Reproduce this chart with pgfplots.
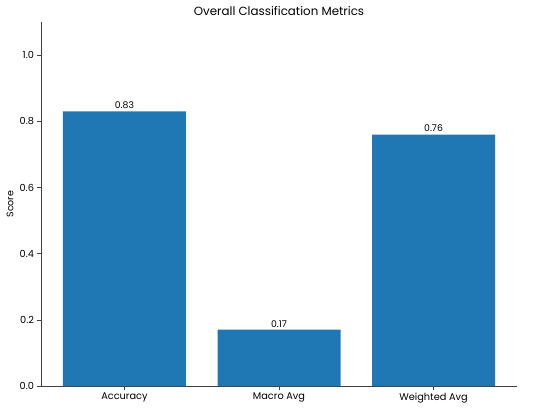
\documentclass[border=0pt]{standalone}
\usepackage{pgfplots}
\pgfplotsset{compat=1.18}
\usepackage{fontspec}
\setmainfont{Poppins}
\definecolor{barblue}{HTML}{1F77B4}
\definecolor{spine}{HTML}{404040}
\begin{document}
\begin{tikzpicture}
\useasboundingbox (-41bp,-25bp) rectangle (509bp,386bp);
\begin{axis}[
  at={(0,0)}, anchor=south west,
  scale only axis,
  width=476bp, height=364bp,
  xmin=-0.54, xmax=2.54,
  ymin=0, ymax=1.1,
  ytick={0,0.2,0.4,0.6,0.8,1.0},
  xtick={0,1,2},
  xticklabels={Accuracy,Macro Avg,Weighted Avg},
  /pgf/number format/assume math mode=true,
  yticklabel style={/pgf/number format/fixed,/pgf/number format/fixed zerofill,/pgf/number format/precision=1,font=\fontsize{9.8}{11}\selectfont},
  xticklabel style={font=\fontsize{9.8}{11}\selectfont},
  axis x line*=bottom, axis y line*=left,
  axis line style={spine,line width=0.6pt,-},
  tick style={spine,line width=0.6pt},
  tick align=outside,
  major tick length=3.5bp,
  ylabel={Score},
  ylabel style={font=\fontsize{9.5}{10}\selectfont, at={(axis description cs:0,0.5)}, anchor=center, yshift=31bp},
  title={Overall Classification Metrics},
  title style={font=\fontsize{11.9}{13}\selectfont, at={(axis description cs:0.5,1)}, anchor=center, yshift=5bp},
  ybar, bar width=123bp,
  bar shift=0pt,
  nodes near coords,
  nodes near coords style={font=\fontsize{9.3}{10}\selectfont, /pgf/number format/fixed,/pgf/number format/fixed zerofill,/pgf/number format/precision=2, /pgf/number format/assume math mode=true, yshift=-1bp},
]
\addplot[fill=barblue, draw=none] coordinates {(0,0.83) (1,0.17) (2,0.76)};
\end{axis}
\end{tikzpicture}
\end{document}
